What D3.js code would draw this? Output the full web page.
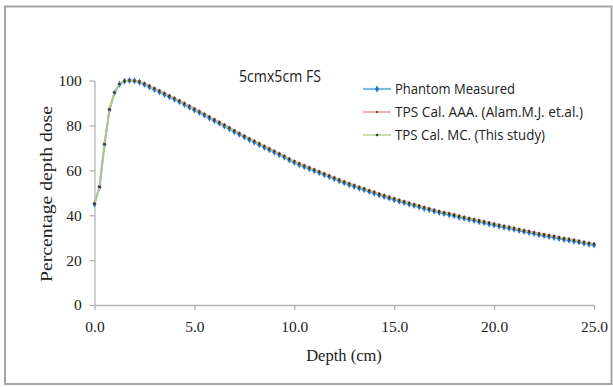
<!DOCTYPE html>
<html>
<head>
<meta charset="utf-8">
<script src="https://cdn.jsdelivr.net/npm/d3@7"></script>
<style>
html,body{margin:0;padding:0;background:#fff;}
svg{display:block;}
</style>
</head>
<body>
<svg id="chart" width="613" height="387"></svg>
<script>
const depths = [0,0.25,0.5,0.75,1,1.25,1.5,1.75,2,2.25,2.5,2.75,3,3.25,3.5,3.75,4,4.25,4.5,4.75,5,
5.25,5.5,5.75,6,6.25,6.5,6.75,7,7.25,7.5,7.75,8,8.25,8.5,8.75,9,9.25,9.5,9.75,10,
10.25,10.5,10.75,11,11.25,11.5,11.75,12,12.25,12.5,12.75,13,13.25,13.5,13.75,14,14.25,14.5,14.75,15,
15.25,15.5,15.75,16,16.25,16.5,16.75,17,17.25,17.5,17.75,18,18.25,18.5,18.75,19,19.25,19.5,19.75,20,
20.25,20.5,20.75,21,21.25,21.5,21.75,22,22.25,22.5,22.75,23,23.25,23.5,23.75,24,24.25,24.5,24.75,25];

const phantomMeasured = [45.0,52.5,71.5,87.0,94.5,98.3,99.7,100.0,99.8,99.2,98.2,97.1,96.0,94.9,93.8,92.7,91.6,90.5,89.3,88.1,86.9,
85.7,84.5,83.3,82.1,80.9,79.7,78.5,77.2,76.0,74.8,
73.6,72.5,71.4,70.2,69.1,68.0,66.9,65.8,64.6,63.5,
62.5,61.6,60.7,59.8,58.9,58.0,57.1,56.2,55.3,54.4,
53.6,52.8,52.0,51.3,50.5,49.8,49.0,48.3,47.6,46.9,
46.2,45.6,44.9,44.3,43.7,43.0,42.4,41.8,41.2,40.7,
40.2,39.7,39.1,38.6,38.1,37.6,37.1,36.6,36.1,35.6,
35.1,34.6,34.2,33.7,33.2,32.7,32.3,31.8,31.3,30.9,
30.5,30.1,29.6,29.2,28.8,28.4,28.0,27.5,27.1,26.7];

const tpsAAA = [45.3,52.8,71.8,87.3,94.7,98.5,99.8,100.0,100.0,99.6,98.7,97.7,96.6,95.5,94.4,93.3,92.2,91.1,89.9,88.7,87.5,
86.3,85.1,83.9,82.7,81.5,80.3,79.1,77.8,76.6,75.4,
74.2,73.1,72.0,70.8,69.7,68.6,67.5,66.4,65.2,64.1,
63.1,62.2,61.3,60.4,59.5,58.6,57.7,56.8,55.9,55.0,
54.2,53.4,52.6,51.9,51.1,50.4,49.6,48.9,48.2,47.5,
46.8,46.2,45.5,44.9,44.3,43.6,43.0,42.4,41.8,41.3,
40.8,40.3,39.7,39.2,38.7,38.2,37.7,37.2,36.7,36.2,
35.7,35.2,34.8,34.3,33.8,33.3,32.9,32.4,31.9,31.5,
31.1,30.7,30.2,29.8,29.4,29.0,28.6,28.1,27.7,27.3];

const tpsMC = [45.1,52.6,71.6,87.1,94.6,98.4,99.8,100.0,99.9,99.5,98.6,97.5,96.4,95.3,94.2,93.1,92.0,90.9,89.7,88.5,87.3,
86.1,84.9,83.7,82.5,81.3,80.1,78.9,77.6,76.4,75.2,
74.0,72.9,71.8,70.6,69.5,68.4,67.3,66.2,65.0,63.9,
62.9,62.0,61.1,60.2,59.3,58.4,57.5,56.6,55.7,54.8,
54.0,53.2,52.4,51.7,50.9,50.2,49.4,48.7,48.0,47.3,
46.6,46.0,45.3,44.7,44.1,43.4,42.8,42.2,41.6,41.1,
40.6,40.1,39.5,39.0,38.5,38.0,37.5,37.0,36.5,36.0,
35.5,35.0,34.6,34.1,33.6,33.1,32.7,32.2,31.7,31.3,
30.9,30.5,30.0,29.6,29.2,28.8,28.4,27.9,27.5,27.1];

const seriesNames = ["Phantom Measured","TPS Cal. AAA. (Alam.M.J. et.al.)","TPS Cal. MC. (This study)"];
const xTicks = [0,5,10,15,20,25];
const yTicks = [0,20,40,60,80,100];
const titleText = "5cmx5cm FS";
const xLabel = "Depth (cm)";
const yLabel = "Percentage depth dose";

const svg = d3.select("#chart");

// outer frame
svg.append("rect").attr("x",5).attr("y",6.5).attr("width",606.5).attr("height",377.5)
  .attr("fill","#fff").attr("stroke","#a6a6a6").attr("stroke-width",2);

const x = d3.scaleLinear().domain([0,25]).range([94.5,594]);
const y = d3.scaleLinear().domain([0,100]).range([305,80.5]);

const serif = "'Liberation Serif','DejaVu Serif',serif";
const sans = "'Liberation Sans Narrow','Open Sans','Liberation Sans',sans-serif";

// axes
const xAxis = svg.append("g").attr("transform",`translate(0,${y(0)})`)
  .call(d3.axisBottom(x).tickValues(xTicks).tickFormat(d3.format(".1f")).tickSize(5).tickSizeOuter(0));
const yAxis = svg.append("g").attr("transform",`translate(${x(0)},0)`)
  .call(d3.axisLeft(y).tickValues(yTicks).tickSize(5).tickSizeOuter(0));
[xAxis,yAxis].forEach(g=>{
  g.select(".domain").attr("stroke","#b3b3b3").attr("stroke-width",1.3);
  g.selectAll(".tick line").attr("stroke","#b3b3b3").attr("stroke-width",1.3);
  g.selectAll(".tick text").attr("fill","#222").attr("font-family",serif).attr("font-size",15.5);
});
xAxis.selectAll(".tick text").attr("dy","1.25em");
yAxis.selectAll(".tick text").attr("dx","-0.3em");

// series
const rows = depths.map((d,i)=>({d, p:phantomMeasured[i], a:tpsAAA[i], m:tpsMC[i]}));
const specs = [
  {key:"p", line:"#7bbbe9", mark:"#2a72c4", w:2.2, shape:d3.symbolDiamond, size:14},
  {key:"a", line:"#eba3a3", mark:"#c43c3c", w:1.6, shape:d3.symbolSquare, size:5},
  {key:"m", line:"#a9cf7c", mark:"#333333", w:1.3, shape:d3.symbolSquare, size:5}
];
specs.forEach(s=>{
  const line = d3.line().x(r=>x(r.d)).y(r=>y(r[s.key]));
  svg.append("path").datum(rows).attr("d",line).attr("fill","none")
    .attr("stroke",s.line).attr("stroke-width",s.w);
  svg.append("g").selectAll("path").data(rows).join("path")
    .attr("transform",r=>`translate(${x(r.d)},${y(r[s.key])})`)
    .attr("d",d3.symbol().type(s.shape).size(s.size))
    .attr("fill",s.mark);
});

// title
svg.append("text").attr("x",280).attr("y",82).attr("text-anchor","middle")
  .attr("font-family",sans).attr("font-size",16.5).attr("fill","#222")
  .attr("textLength",82).attr("lengthAdjust","spacingAndGlyphs").text(titleText);

// legend
const legendWidths = [120,188,150];
const leg = svg.append("g");
seriesNames.forEach((n,i)=>{
  const s = specs[i];
  const ly = 89 + i*23;
  leg.append("line").attr("x1",363).attr("x2",391).attr("y1",ly).attr("y2",ly)
    .attr("stroke",s.line).attr("stroke-width",s.w);
  leg.append("path").attr("transform",`translate(377,${ly})`)
    .attr("d",d3.symbol().type(s.shape).size(s.size)).attr("fill",s.mark);
  leg.append("text").attr("x",395).attr("y",ly).attr("dy","0.35em")
    .attr("font-family",sans).attr("font-size",15).attr("fill","#222")
    .attr("textLength",legendWidths[i]).attr("lengthAdjust","spacingAndGlyphs").text(n);
});

// axis titles
svg.append("text").attr("x",344).attr("y",361).attr("text-anchor","middle")
  .attr("font-family",serif).attr("font-size",16.5).attr("fill","#222").text(xLabel);
svg.append("text").attr("transform","translate(52,194) rotate(-90)").attr("text-anchor","middle")
  .attr("font-family",serif).attr("font-size",17).attr("fill","#222")
  .attr("textLength",176).attr("lengthAdjust","spacingAndGlyphs").text(yLabel);
</script>
</body>
</html>
